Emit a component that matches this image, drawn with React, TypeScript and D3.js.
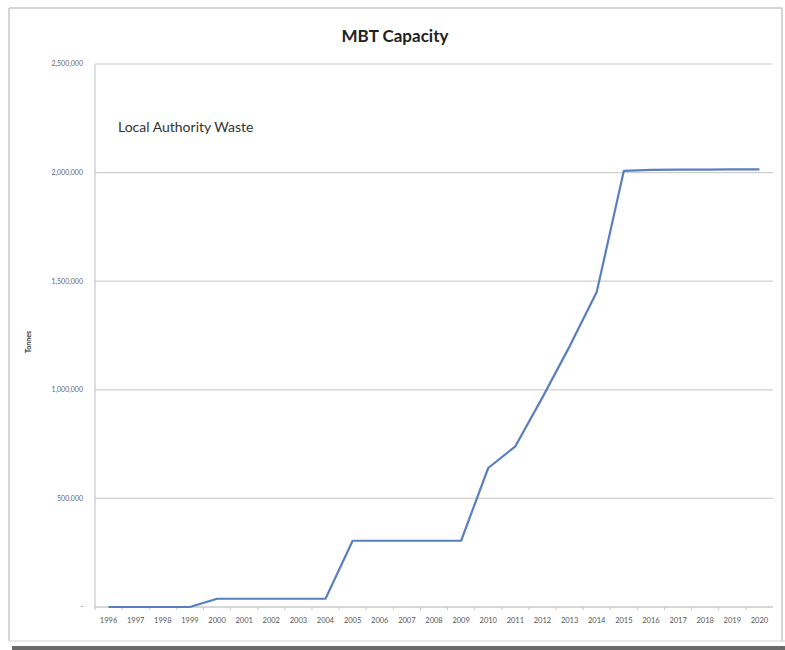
import React from "react";
import * as d3 from "d3";

const years: string[] = [
  "1996", "1997", "1998", "1999", "2000", "2001", "2002", "2003", "2004", "2005",
  "2006", "2007", "2008", "2009", "2010", "2011", "2012", "2013", "2014", "2015",
  "2016", "2017", "2018", "2019", "2020",
];
const capacity: number[] = [
  0, 0, 0, 0, 38000, 38000, 38000, 38000, 38000, 305000,
  305000, 305000, 305000, 305000, 640000, 740000, 965000, 1200000, 1450000, 2008000,
  2013000, 2014000, 2014000, 2015000, 2015000,
];
const yTicks: number[] = [0, 500000, 1000000, 1500000, 2000000, 2500000];
const chartTitle = "MBT Capacity";
const subtitle = "Local Authority Waste";
const yTitle = "Tonnes";

const W = 785;
const H = 650;
const left = 95;
const right = 773;
const top = 64;
const bottom = 607;

export default function App() {
  const x = d3.scaleBand<string>().domain(years).range([left, right]);
  const y = d3.scaleLinear().domain([0, 2500000]).range([bottom, top]);
  const cx = (d: string) => (x(d) as number) + x.bandwidth() / 2;
  const line = d3
    .line<number>()
    .x((_, i) => cx(years[i]))
    .y((v) => y(v));
  const fmt = d3.format(",");
  const font = "Lato, 'Open Sans', sans-serif";

  return (
    <svg
      width={W}
      height={H}
      style={{ position: "absolute", left: 0, top: 0, background: "#fff" }}
      fontFamily={font}
    >
      <rect x={0} y={0} width={W} height={H} fill="#fff" />
      {/* frame */}
      <line x1={9} x2={782} y1={8} y2={8} stroke="#c8c8c8" strokeWidth={1.5} />
      <line x1={9} x2={9} y1={8} y2={641} stroke="#c8c8c8" strokeWidth={1.5} />
      <line x1={782} x2={782} y1={8} y2={641} stroke="#c8c8c8" strokeWidth={1.5} />
      <line x1={9} x2={785} y1={641} y2={641} stroke="#d0d0d0" strokeWidth={1} />
      <rect x={12} y={646} width={773} height={4} fill="#6a6a6a" />

      {/* gridlines */}
      {yTicks.map((t) => (
        <line
          key={"g" + t}
          x1={left}
          x2={right}
          y1={y(t)}
          y2={y(t)}
          stroke="#cfcfcf"
          strokeWidth={1.2}
        />
      ))}
      {/* axes */}
      <line x1={left} x2={left} y1={top} y2={bottom} stroke="#c8c8c8" strokeWidth={1.2} />
      <line x1={left} x2={right} y1={bottom} y2={bottom} stroke="#c8c8c8" strokeWidth={1.2} />
      {years.map((yr) => (
        <line
          key={"t" + yr}
          x1={x(yr) as number}
          x2={x(yr) as number}
          y1={bottom}
          y2={bottom + 3}
          stroke="#c8c8c8"
        />
      ))}
      {yTicks.map((t) => (
        <text
          key={"yl" + t}
          x={83}
          y={y(t)}
          dy="0.35em"
          textAnchor="end"
          fontSize={7}
          fill="#666"
        >
          {t === 0 ? "-" : fmt(t)}
        </text>
      ))}
      {years.map((yr) => (
        <text
          key={"xl" + yr}
          x={cx(yr)}
          y={623}
          textAnchor="middle"
          fontSize={7.5}
          fill="#555"
        >
          {yr}
        </text>
      ))}

      <text
        transform={`translate(31, 342) rotate(-90)`}
        textAnchor="middle"
        fontSize={7}
        fontWeight="bold"
        fill="#333"
      >
        {yTitle}
      </text>

      <text x={395} y={42} textAnchor="middle" fontSize={17} fontWeight="bold" fill="#222">
        {chartTitle}
      </text>
      <text x={118} y={132} fontSize={14} fill="#333">
        {subtitle}
      </text>

      <path
        d={line(capacity) || ""}
        fill="none"
        stroke="#5a7fbf"
        strokeWidth={2.2}
        strokeLinejoin="round"
      />
    </svg>
  );
}
